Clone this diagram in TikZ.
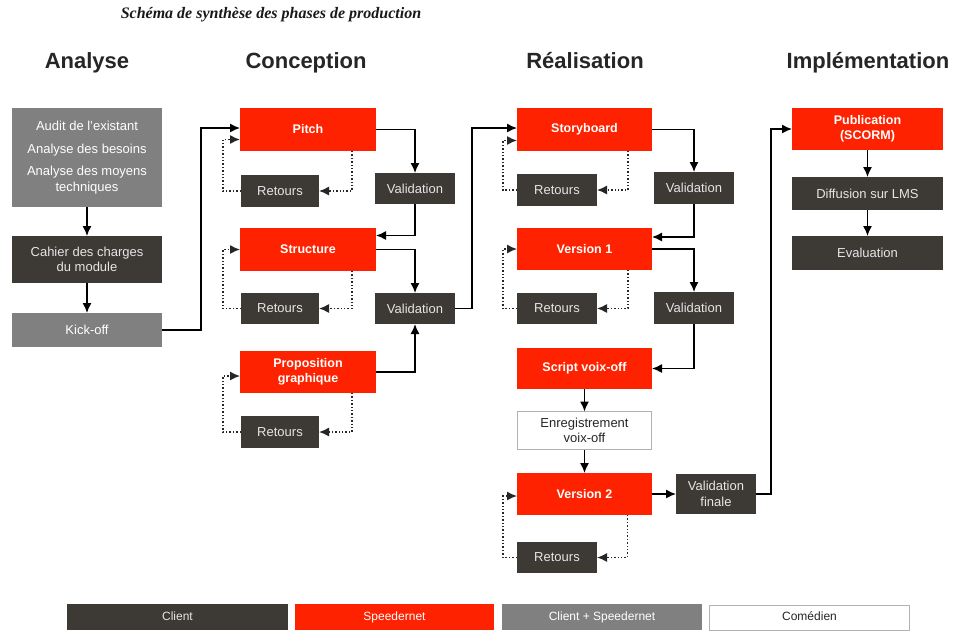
\documentclass[tikz,border=0pt]{standalone}
\usepackage{fontspec}
\setmainfont{Liberation Sans}
\newfontfamily\titlefont{Liberation Serif}
\usetikzlibrary{arrows.meta,calc}
\definecolor{sred}{HTML}{FF2200}
\definecolor{sdark}{HTML}{3D3935}
\definecolor{sgray}{HTML}{808080}
\definecolor{slight}{HTML}{E6E6E6}
\begin{document}
\begin{tikzpicture}[x=1pt,y=-1pt,
  every node/.style={inner sep=0pt, outer sep=0pt, align=center, font=\fontsize{13}{15.5}\selectfont},
  sz/.style 2 args={minimum width=#1pt, minimum height=#2pt},
  redbox/.style={fill=sred, text=white, font=\fontsize{12.5}{15}\selectfont\bfseries},
  darkbox/.style={fill=sdark, text=slight},
  graybox/.style={fill=sgray, text=white},
  whitebox/.style={fill=white, draw=black!30, line width=1pt, text=black!85},
  phase/.style={anchor=base, font=\fontsize{22}{26}\selectfont\bfseries, text=black!85},
  legend/.style={font=\fontsize{12}{14}\selectfont, text height=8.5pt, text depth=2.5pt},
  arr/.style={draw=black, line width=1.4pt, -{Latex[length=10pt,width=9pt]}},
  back/.style={draw=black!85, line width=1.4pt, dotted, -{Latex[length=10pt,width=9pt]}}
]
\useasboundingbox (0,0) rectangle (955,630);
\fill[white] (0,0) rectangle (955,630);

% title and phases
\node[font=\titlefont\fontsize{16}{18}\selectfont\bfseries\itshape, text=black!90] (title) at (271,15) {Schéma de synthèse des phases de production};
\node[phase] (hA) at (87,68) {Analyse};
\node[phase] (hC) at (306,68) {Conception};
\node[phase] (hR) at (585,68) {Réalisation};
\node[phase] (hI) at (868,68) {Implémentation};

% Analyse
\node[graybox, sz={150}{99}] (audit) at (87,157.5) {Audit de l’existant\\[7pt]Analyse des besoins\\[7pt]Analyse des moyens\\techniques};
\node[darkbox, sz={150}{47}] (cahier) at (87,259.5) {Cahier des charges\\du module};
\node[graybox, sz={150}{34}] (kick) at (87,330) {Kick-off};

% Conception
\node[redbox, sz={136}{43}] (pitch) at (308,129.5) {Pitch};
\node[darkbox, sz={78}{32}] (ret1) at (280,191) {Retours};
\node[darkbox, sz={80}{31}] (val1) at (415,188.5) {Validation};
\node[redbox, sz={136}{43}] (struct) at (308,249.5) {Structure};
\node[darkbox, sz={78}{31}] (ret2) at (280,308.5) {Retours};
\node[darkbox, sz={80}{31}] (val2) at (415,308.5) {Validation};
\node[redbox, sz={136}{42}] (prop) at (308,372) {Proposition\\graphique};
\node[darkbox, sz={78}{32}] (ret3) at (280,432) {Retours};

% Realisation
\node[redbox, sz={135}{43}] (story) at (584.5,129.5) {Storyboard};
\node[darkbox, sz={80}{32}] (ret4) at (557,190) {Retours};
\node[darkbox, sz={80}{32}] (val3) at (694,188) {Validation};
\node[redbox, sz={135}{42}] (v1) at (584.5,249) {Version 1};
\node[darkbox, sz={80}{31}] (ret5) at (557,308.5) {Retours};
\node[darkbox, sz={80}{32}] (val4) at (694,308) {Validation};
\node[redbox, sz={135}{41}] (script) at (584.5,368.5) {Script voix-off};
\node[whitebox, sz={134}{38}] (enreg) at (584.5,430.5) {Enregistrement\\voix-off};
\node[redbox, sz={135}{42}] (v2) at (584.5,494) {Version 2};
\node[darkbox, sz={80}{40}] (valf) at (716,494) {Validation\\finale};
\node[darkbox, sz={80}{31}] (ret6) at (557,557.5) {Retours};

% Implementation
\node[redbox, sz={151}{42}] (pub) at (867.5,129) {Publication\\(SCORM)};
\node[darkbox, sz={151}{33}] (diff) at (867.5,193.5) {Diffusion sur LMS};
\node[darkbox, sz={151}{34}] (eval) at (867.5,253) {Evaluation};

% legend
\node[darkbox, legend, sz={221}{26}] (lg1) at (177.5,617) {Client};
\node[redbox, legend, sz={199}{26}, font=\fontsize{12}{14}\selectfont] (lg2) at (394.5,617) {Speedernet};
\node[graybox, legend, sz={200}{26}] (lg3) at (602,617) {Client + Speedernet};
\node[whitebox, legend, sz={200}{25}] (lg4) at (809.5,617.5) {Comédien};

% main flow
\draw[arr] (audit.south) -- (cahier.north);
\draw[arr] (cahier.south) -- (kick.north);
\draw[arr] (kick.east) -- ++(39,0) |- ([yshift=1.5pt]pitch.west);
\draw[arr] (pitch.east) -| (val1.north);
\draw[arr] (val1.south) |- ([yshift=14pt]struct.east);
\draw[arr] (struct.east) -| (val2.north);
\draw[arr] (prop.east) -| (val2.south);
\draw[arr] (val2.east) -- ++(17,0) |- ([yshift=1.5pt]story.west);
\draw[arr] (story.east) -| (val3.north);
\draw[arr] (val3.south) |- ([yshift=12pt]v1.east);
\draw[arr] (v1.east) -| (val4.north);
\draw[arr] (val4.south) |- (script.east);
\draw[arr] (script.south) -- (enreg.north);
\draw[arr] (enreg.south) -- (v2.north);
\draw[arr] (v2.east) -- (valf.west);
\draw[arr] (valf.east) -- ++(15,0) |- (pub.west);
\draw[arr] (pub.south) -- (diff.north);
\draw[arr] (diff.south) -- (eval.north);

% feedback loops
\draw[back] ([xshift=44pt]pitch.south) |- (ret1.east);
\draw[back] (ret1.west) -- ++(-18,0) |- ([yshift=-10pt]pitch.west);
\draw[back] ([xshift=44pt]struct.south) |- (ret2.east);
\draw[back] (ret2.west) -- ++(-18,0) |- (struct.west);
\draw[back] ([xshift=44pt]prop.south) |- (ret3.east);
\draw[back] (ret3.west) -- ++(-18,0) |- ([yshift=-4pt]prop.west);
\draw[back] ([xshift=43.5pt]story.south) |- (ret4.east);
\draw[back] (ret4.west) -- ++(-14,0) |- ([yshift=-11pt]story.west);
\draw[back] ([xshift=43.5pt]v1.south) |- (ret5.east);
\draw[back] (ret5.west) -- ++(-14,0) |- (v1.west);
\draw[back] ([xshift=43pt]v2.south) |- (ret6.east);
\draw[back] (ret6.west) -- ++(-14,0) |- ([yshift=-2pt]v2.west);
\end{tikzpicture}
\end{document}
